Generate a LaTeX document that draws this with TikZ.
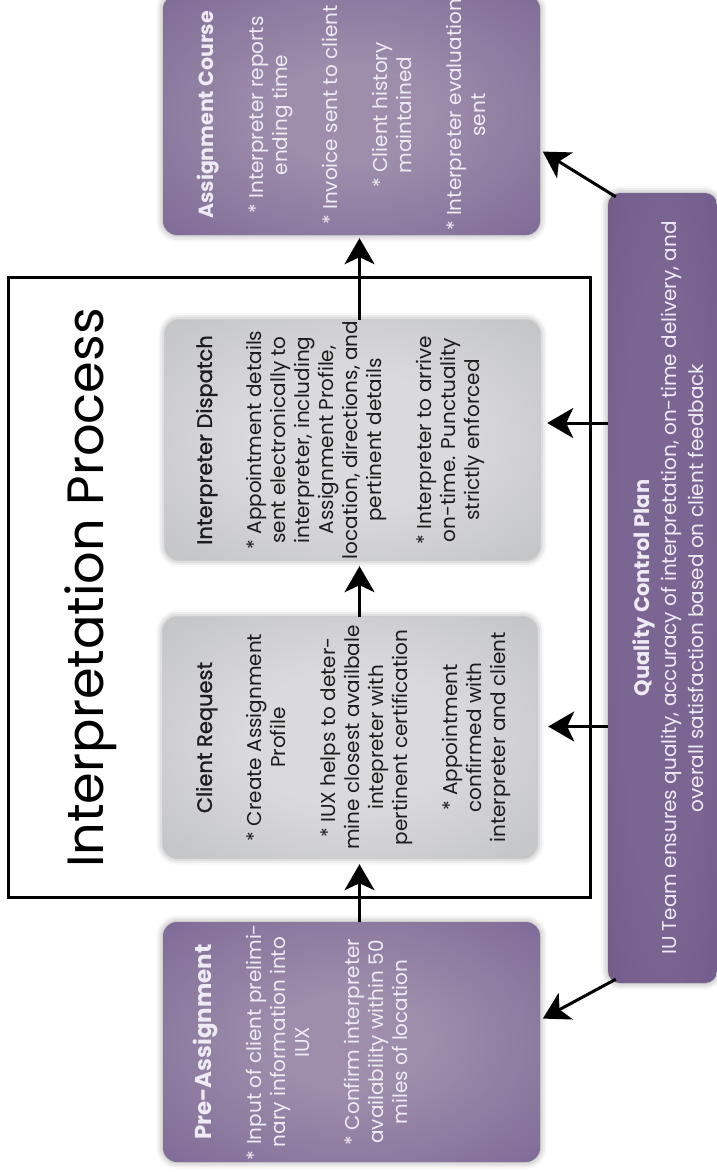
\documentclass[tikz,border=0pt]{standalone}
\usepackage{fontspec}
\setmainfont{Poppins}
\newfontfamily\mediumfont{Poppins}[FakeBold=1.2]
\usetikzlibrary{arrows.meta,shadows.blur,calc}

% palette
\definecolor{plumcore}{HTML}{9E8EAC}
\definecolor{plummid}{HTML}{84709A}
\definecolor{plumrim}{HTML}{6A5283}
\definecolor{greycore}{HTML}{DADADC}
\definecolor{greymid}{HTML}{C4C5C7}
\definecolor{greyrim}{HTML}{A5A6A9}
\definecolor{qccore}{HTML}{7B6693}
\definecolor{qcrim}{HTML}{6A5383}
\definecolor{paper}{HTML}{EFEBF3}
\definecolor{ink}{HTML}{1C1C1C}

\pgfdeclareradialshading{plumglow}{\pgfpoint{0bp}{0bp}}{color(0bp)=(plumcore); color(10bp)=(plumcore); color(32bp)=(plummid); color(52bp)=(plumrim); color(72bp)=(plumrim)}
\pgfdeclareradialshading{greyglow}{\pgfpoint{0bp}{0bp}}{color(0bp)=(greycore); color(14bp)=(greycore); color(34bp)=(greymid); color(52bp)=(greyrim); color(72bp)=(greyrim)}
\pgfdeclareradialshading{qcglow}{\pgfpoint{0bp}{0bp}}{color(0bp)=(qccore); color(20bp)=(qccore); color(50bp)=(qcrim); color(72bp)=(qcrim)}

\tikzset{
  card/.style={rounded corners=14pt, inner sep=0pt, draw=none,
    blur shadow={shadow xshift=0pt, shadow yshift=0pt, shadow blur radius=7pt, shadow opacity=40}},
  plumcard/.style={card, shade, shading=plumglow},
  greycard/.style={card, shade, shading=greyglow},
  qccard/.style={card, rounded corners=12pt, shade, shading=qcglow},
  cardtext/.style={rotate=90, anchor=north, inner sep=0pt, align=center,
    font=\fontsize{20}{24}\selectfont},
  arr/.style={line width=3pt, -{Stealth[length=26pt,width=30pt,inset=7pt]}},
}
\newcommand{\plumtitle}[2]{{\fontsize{#1}{24}\selectfont\bfseries #2}}
\newcommand{\greytitle}[1]{{\fontsize{21}{24}\selectfont\mediumfont #1}}

\begin{document}
\begin{tikzpicture}[x=1pt,y=-1pt]
\useasboundingbox (0,0) rectangle (717,1172);

% process frame and its heading
\node[draw, line width=3pt, minimum width=582pt, minimum height=620pt] (frame) at (299,587) {};
\node[rotate=90, anchor=base, inner sep=0pt, font=\fontsize{51}{58}\selectfont] (heading) at (103,588) {Interpretation Process};

% cards
\node[plumcard, minimum width=377pt, minimum height=240pt] (pre) at (351.5,1042) {};
\node[greycard, minimum width=374pt, minimum height=241pt] (cr) at (350,737.5) {};
\node[greycard, minimum width=375pt, minimum height=240pt] (id) at (352.5,440) {};
\node[plumcard, minimum width=377pt, minimum height=240pt] (ac) at (351.5,115) {};
\node[qccard, minimum width=109pt, minimum height=790pt] (qc) at (662.5,588) {};

% card texts
\node[cardtext, text=paper] (pretext) at ([xshift=30pt]pre.west) {%
  \plumtitle{23}{Pre-Assignment}\\[26pt]
  * Input of client prelimi-\\
  nary information into\\
  IUX\\[26pt]
  * Confirm interpreter\\
  availability within 50\\
  miles of location};

\node[cardtext, text=ink] (crtext) at ([xshift=33pt]cr.west) {%
  \greytitle{Client Request}\\[26pt]
  * Create Assignment\\
  Profile\\[26pt]
  * IUX helps to deter-\\
  mine closest availbale\\
  intepreter with\\
  pertinent certification\\[26pt]
  * Appointment\\
  confirmed with\\
  interpreter and client};

\node[cardtext, text=ink] (idtext) at ([xshift=31pt]id.west) {%
  \greytitle{Interpreter Dispatch}\\[26pt]
  * Appointment details\\
  sent electronically to\\
  interpreter, including\\
  Assignment Profile,\\
  location, directions, and\\
  pertinent details\\[26pt]
  * Interpreter to arrive\\
  on-time. Punctuality\\
  strictly enforced};

\node[cardtext, text=paper] (actext) at ([xshift=34pt]ac.west) {%
  \plumtitle{20.5}{Assignment Course}\\[26pt]
  * Interpreter reports\\
  ending time\\[26pt]
  * Invoice sent to client\\[26pt]
  * Client history\\
  maintained\\[26pt]
  * Interpreter evaluation\\
  sent};

\node[cardtext, text=paper, font=\fontsize{20}{27}\selectfont] (qctext) at ([xshift=25pt]qc.west) {%
  {\fontsize{21}{27}\selectfont\bfseries Quality Control Plan}\\
  IU Team ensures quality, accuracy of interpretation, on-time delivery, and\\
  overall satisfaction based on client feedback};

% flow through the process
\coordinate (spine) at (359.5,0);
\draw[arr, shorten >=6pt] (pre.north -| spine) -- (cr.south -| spine);
\draw[arr, shorten >=6pt] (cr.north -| spine) -- (id.south -| spine);
\draw[arr, shorten >=3pt] (id.north -| spine) -- (ac.south -| spine);

% quality control feeds every stage
\coordinate (crin) at ([yshift=11pt]cr.east);
\coordinate (idin) at ([yshift=17pt]id.east);
\draw[arr, shorten >=11pt] (crin -| qc.west) -- (crin);
\draw[arr, shorten >=7pt] (idin -| qc.west) -- (idin);
\coordinate (qctop) at ([shift={(8pt,-4pt)}]qc.north west);
\coordinate (qcbot) at ([shift={(8pt,4pt)}]qc.south west);
\coordinate (acin) at ([yshift=-35pt]ac.east);
\coordinate (prein) at ([yshift=22pt]pre.east);
\draw[arr, shorten >=3pt] (qctop) -- (acin);
\draw[arr, shorten >=3pt] (qcbot) -- (prein);
\end{tikzpicture}
\end{document}
